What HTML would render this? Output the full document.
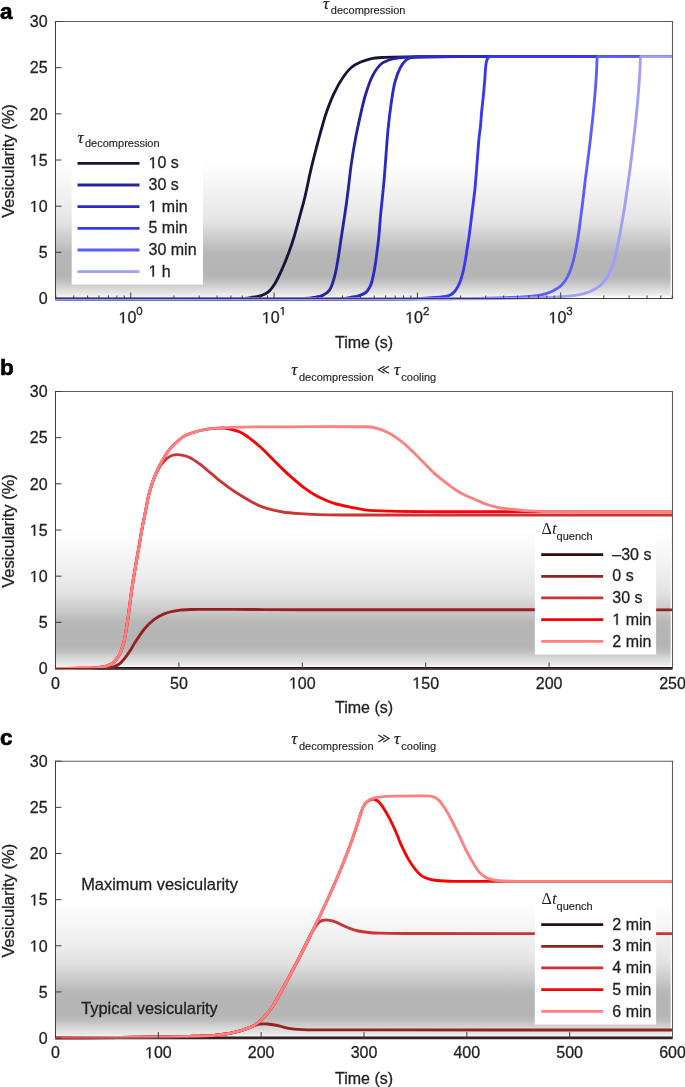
<!DOCTYPE html>
<html><head><meta charset="utf-8"><style>
html,body{margin:0;padding:0;background:#fff;}
body{width:685px;height:1087px;overflow:hidden;}
svg{display:block;will-change:transform;}
text{font-family:"Liberation Sans", sans-serif;fill:#231f20;}
.t{font-size:16px;stroke:#231f20;stroke-width:0.3px;}
.sup{font-size:11.5px;}
.sub{font-size:11px;stroke:#231f20;stroke-width:0.15px;}
.tau{font-family:"Liberation Serif", serif;font-style:italic;font-size:17px;stroke:#231f20;stroke-width:0.25px;}
.delta{font-family:"Liberation Serif", serif;font-size:16px;}
.tit{font-family:"Liberation Serif", serif;font-style:italic;font-size:17.5px;}
.pl{font-size:22.5px;font-weight:bold;fill:#000;stroke:#000;stroke-width:0.6px;}
.ann{font-size:16.4px;stroke:#231f20;stroke-width:0.3px;}
.yl{font-size:16.5px;stroke:#231f20;stroke-width:0.3px;}
.one{fill:none;stroke:none;}
</style></head>
<body><svg width="685" height="1087" viewBox="0 0 685 1087">
<defs><linearGradient id="g0" gradientUnits="userSpaceOnUse" x1="0" y1="155.38" x2="0" y2="296.65"><stop offset="0.0392" stop-color="rgb(255,255,255)"/><stop offset="0.0980" stop-color="rgb(252,252,252)"/><stop offset="0.1634" stop-color="rgb(248,248,248)"/><stop offset="0.2288" stop-color="rgb(244,244,244)"/><stop offset="0.2941" stop-color="rgb(240,240,240)"/><stop offset="0.3595" stop-color="rgb(236,236,236)"/><stop offset="0.4248" stop-color="rgb(231,231,231)"/><stop offset="0.4902" stop-color="rgb(224,224,224)"/><stop offset="0.5359" stop-color="rgb(214,214,214)"/><stop offset="0.5817" stop-color="rgb(205,205,205)"/><stop offset="0.6144" stop-color="rgb(200,200,200)"/><stop offset="0.6536" stop-color="rgb(190,190,190)"/><stop offset="0.6863" stop-color="rgb(184,184,184)"/><stop offset="0.7190" stop-color="rgb(182,182,182)"/><stop offset="0.7843" stop-color="rgb(181,181,181)"/><stop offset="0.8431" stop-color="rgb(181,181,181)"/><stop offset="0.8627" stop-color="rgb(183,183,183)"/><stop offset="0.8824" stop-color="rgb(188,188,188)"/><stop offset="0.9020" stop-color="rgb(196,196,196)"/><stop offset="0.9216" stop-color="rgb(206,206,206)"/><stop offset="0.9477" stop-color="rgb(218,218,218)"/><stop offset="0.9739" stop-color="rgb(228,228,228)"/><stop offset="0.9902" stop-color="rgb(236,236,236)"/><stop offset="0.9967" stop-color="rgb(245,245,245)"/></linearGradient><linearGradient id="g1" gradientUnits="userSpaceOnUse" x1="0" y1="525.38" x2="0" y2="666.65"><stop offset="0.0392" stop-color="rgb(255,255,255)"/><stop offset="0.0980" stop-color="rgb(252,252,252)"/><stop offset="0.1634" stop-color="rgb(248,248,248)"/><stop offset="0.2288" stop-color="rgb(244,244,244)"/><stop offset="0.2941" stop-color="rgb(240,240,240)"/><stop offset="0.3595" stop-color="rgb(236,236,236)"/><stop offset="0.4248" stop-color="rgb(231,231,231)"/><stop offset="0.4902" stop-color="rgb(224,224,224)"/><stop offset="0.5359" stop-color="rgb(214,214,214)"/><stop offset="0.5817" stop-color="rgb(205,205,205)"/><stop offset="0.6144" stop-color="rgb(200,200,200)"/><stop offset="0.6536" stop-color="rgb(190,190,190)"/><stop offset="0.6863" stop-color="rgb(184,184,184)"/><stop offset="0.7190" stop-color="rgb(182,182,182)"/><stop offset="0.7843" stop-color="rgb(181,181,181)"/><stop offset="0.8431" stop-color="rgb(181,181,181)"/><stop offset="0.8627" stop-color="rgb(183,183,183)"/><stop offset="0.8824" stop-color="rgb(188,188,188)"/><stop offset="0.9020" stop-color="rgb(196,196,196)"/><stop offset="0.9216" stop-color="rgb(206,206,206)"/><stop offset="0.9477" stop-color="rgb(218,218,218)"/><stop offset="0.9739" stop-color="rgb(228,228,228)"/><stop offset="0.9902" stop-color="rgb(236,236,236)"/><stop offset="0.9967" stop-color="rgb(245,245,245)"/></linearGradient><linearGradient id="g2" gradientUnits="userSpaceOnUse" x1="0" y1="895.03" x2="0" y2="1036.25"><stop offset="0.0392" stop-color="rgb(255,255,255)"/><stop offset="0.0980" stop-color="rgb(252,252,252)"/><stop offset="0.1634" stop-color="rgb(248,248,248)"/><stop offset="0.2288" stop-color="rgb(244,244,244)"/><stop offset="0.2941" stop-color="rgb(240,240,240)"/><stop offset="0.3595" stop-color="rgb(236,236,236)"/><stop offset="0.4248" stop-color="rgb(231,231,231)"/><stop offset="0.4902" stop-color="rgb(224,224,224)"/><stop offset="0.5359" stop-color="rgb(214,214,214)"/><stop offset="0.5817" stop-color="rgb(205,205,205)"/><stop offset="0.6144" stop-color="rgb(200,200,200)"/><stop offset="0.6536" stop-color="rgb(190,190,190)"/><stop offset="0.6863" stop-color="rgb(184,184,184)"/><stop offset="0.7190" stop-color="rgb(182,182,182)"/><stop offset="0.7843" stop-color="rgb(181,181,181)"/><stop offset="0.8431" stop-color="rgb(181,181,181)"/><stop offset="0.8627" stop-color="rgb(183,183,183)"/><stop offset="0.8824" stop-color="rgb(188,188,188)"/><stop offset="0.9020" stop-color="rgb(196,196,196)"/><stop offset="0.9216" stop-color="rgb(206,206,206)"/><stop offset="0.9477" stop-color="rgb(218,218,218)"/><stop offset="0.9739" stop-color="rgb(228,228,228)"/><stop offset="0.9902" stop-color="rgb(236,236,236)"/><stop offset="0.9967" stop-color="rgb(245,245,245)"/></linearGradient></defs>
<rect x="55.5" y="155.38" width="615.1" height="141.27" fill="url(#g0)"/>
<rect x="55.5" y="525.38" width="615.1" height="141.27" fill="url(#g1)"/>
<rect x="55.5" y="895.03" width="615.1" height="141.22" fill="url(#g2)"/>
<path d="M55.50,298.80 C87.00,298.80 119.81,298.82 150.00,298.80 C177.78,298.78 213.89,298.92 230.00,298.70 C236.98,298.60 241.23,298.59 245.00,298.30 C247.29,298.12 248.38,297.94 250.50,297.60 C253.45,297.13 257.92,296.64 261.00,295.60 C263.64,294.71 265.84,293.84 268.00,292.10 C270.58,290.02 272.83,286.78 275.00,283.40 C277.57,279.38 279.75,274.30 282.00,269.30 C284.47,263.82 287.00,257.51 289.10,251.80 C291.07,246.46 292.63,241.63 294.30,236.10 C296.14,230.02 297.85,223.24 299.60,216.80 C301.35,210.37 303.08,204.58 304.80,197.50 C306.88,188.97 308.94,177.84 311.00,169.10 C312.77,161.56 314.51,154.95 316.30,148.10 C318.02,141.52 319.71,135.06 321.50,128.80 C323.21,122.81 324.77,117.09 326.80,111.30 C328.86,105.42 331.13,99.40 333.80,93.80 C336.41,88.31 339.45,82.61 342.60,78.00 C345.34,74.00 348.14,70.20 351.30,67.50 C354.04,65.16 356.96,63.73 360.10,62.30 C363.37,60.81 366.80,59.61 370.60,58.80 C374.88,57.88 379.24,57.73 384.60,57.40 C391.81,56.96 400.58,56.93 410.00,56.80 C421.83,56.63 431.27,56.65 450.00,56.60 C494.17,56.49 598.33,56.60 672.50,56.60" fill="none" stroke="#15153a" stroke-width="2.85" stroke-linejoin="round" stroke-linecap="butt"/>
<path d="M55.50,298.80 C133.67,298.80 258.44,299.12 290.00,298.80 C297.98,298.72 300.70,298.82 305.00,298.50 C308.27,298.26 310.73,297.88 313.60,297.40 C316.50,296.92 319.67,296.78 322.30,295.60 C324.90,294.43 327.39,292.92 329.30,290.40 C331.80,287.09 333.17,281.40 334.60,276.40 C336.17,270.93 337.08,264.67 338.10,258.80 C339.11,252.97 339.82,247.13 340.70,241.30 C341.58,235.47 342.52,229.63 343.40,223.80 C344.28,217.97 345.18,212.14 346.00,206.30 C346.82,200.47 347.50,195.15 348.30,188.80 C349.25,181.23 350.09,172.30 351.30,163.90 C352.55,155.24 354.14,145.86 355.70,137.60 C357.10,130.19 358.51,123.59 360.10,116.60 C361.70,109.56 363.23,102.31 365.30,95.50 C367.31,88.89 369.39,81.82 372.30,76.30 C374.81,71.55 377.60,66.91 381.10,64.00 C384.16,61.45 387.87,60.20 391.60,59.10 C395.46,57.96 399.02,57.79 403.90,57.40 C410.97,56.83 421.00,56.93 430.00,56.80 C439.65,56.66 445.46,56.65 460.00,56.60 C498.69,56.47 601.67,56.60 672.50,56.60" fill="none" stroke="#24249e" stroke-width="2.85" stroke-linejoin="round" stroke-linecap="butt"/>
<path d="M55.50,298.80 C147.00,298.80 295.33,299.26 330.00,298.80 C338.11,298.69 341.24,298.79 345.00,298.40 C347.30,298.16 348.45,297.80 350.50,297.40 C353.09,296.90 356.59,296.54 359.30,295.60 C361.83,294.73 364.41,293.81 366.30,292.10 C368.24,290.34 369.48,287.95 370.70,285.10 C372.31,281.33 373.22,276.05 374.20,271.10 C375.29,265.62 376.02,259.44 376.80,253.60 C377.58,247.77 378.29,242.21 378.90,236.10 C379.57,229.40 379.99,221.70 380.60,215.00 C381.16,208.89 381.82,203.33 382.40,197.50 C382.98,191.67 383.55,186.35 384.10,180.00 C384.76,172.43 385.34,163.51 386.00,155.10 C386.68,146.45 387.22,137.55 388.10,128.80 C388.98,120.05 390.06,110.84 391.30,102.60 C392.42,95.17 393.37,87.74 395.10,81.50 C396.54,76.28 398.35,71.25 400.40,67.50 C401.97,64.63 403.76,62.15 405.60,60.50 C407.01,59.23 408.15,58.49 410.00,57.90 C412.59,57.07 415.77,57.22 420.00,57.00 C427.32,56.62 435.37,56.70 450.00,56.60 C489.84,56.33 598.33,56.60 672.50,56.60" fill="none" stroke="#2b2bc8" stroke-width="2.85" stroke-linejoin="round" stroke-linecap="butt"/>
<path d="M55.50,298.80 C175.33,298.80 372.51,300.20 415.00,298.80 C424.17,298.50 426.63,298.11 431.70,297.70 C435.95,297.36 440.01,297.14 443.40,296.60 C446.05,296.17 448.41,296.01 450.40,295.00 C452.23,294.07 453.59,292.72 455.00,291.00 C456.76,288.86 458.39,285.86 459.70,282.80 C461.19,279.32 462.23,275.02 463.20,271.10 C464.16,267.22 464.82,263.31 465.50,259.40 C466.18,255.51 466.70,251.59 467.30,247.70 C467.90,243.82 468.55,239.98 469.10,236.10 C469.65,232.21 470.12,228.30 470.60,224.40 C471.08,220.50 471.52,216.60 472.00,212.70 C472.48,208.80 473.02,204.90 473.50,201.00 C473.98,197.10 474.43,193.91 474.90,189.30 C475.57,182.67 476.23,173.28 476.90,165.00 C477.60,156.33 478.27,145.76 479.00,138.40 C479.52,133.17 480.16,129.44 480.60,125.00 C481.03,120.64 481.21,116.24 481.60,112.00 C481.98,107.92 482.50,103.82 482.90,100.00 C483.26,96.52 483.59,93.38 483.90,90.00 C484.22,86.52 484.55,82.83 484.80,79.40 C485.04,76.17 485.14,72.90 485.40,70.00 C485.62,67.49 485.81,65.00 486.20,63.00 C486.50,61.47 486.73,60.04 487.30,59.00 C487.74,58.19 488.34,57.50 489.00,57.10 C489.59,56.74 490.08,56.71 491.00,56.60 C492.91,56.36 495.12,56.60 500.00,56.60 C521.38,56.60 615.00,56.60 672.50,56.60" fill="none" stroke="#3737f4" stroke-width="2.85" stroke-linejoin="round" stroke-linecap="butt"/>
<path d="M55.50,298.80 C159.47,298.80 304.01,298.80 367.40,298.80 C395.20,298.80 410.83,298.83 427.40,298.80 C439.12,298.78 447.40,298.80 457.40,298.70 C467.40,298.60 478.41,298.41 487.40,298.20 C494.74,298.03 501.21,297.84 507.40,297.60 C512.76,297.39 517.68,297.21 522.40,296.90 C526.63,296.63 530.81,296.34 534.40,295.90 C537.34,295.54 539.84,295.19 542.40,294.60 C544.83,294.04 547.19,293.38 549.40,292.50 C551.52,291.66 553.48,290.63 555.40,289.50 C557.31,288.37 559.24,287.21 560.90,285.70 C562.62,284.13 564.08,282.36 565.50,280.20 C567.20,277.61 568.76,274.33 570.10,271.00 C571.58,267.32 572.74,263.17 573.80,259.00 C574.93,254.59 575.75,249.81 576.60,245.20 C577.45,240.61 578.22,236.01 578.90,231.40 C579.58,226.81 580.10,222.20 580.70,217.60 C581.30,213.00 581.93,208.40 582.50,203.80 C583.07,199.20 583.55,194.70 584.10,190.00 C584.68,185.10 585.28,180.00 585.90,175.00 C586.53,170.00 587.23,164.91 587.85,160.00 C588.45,155.28 588.99,150.83 589.55,146.10 C590.14,141.17 590.73,136.04 591.30,131.00 C591.87,125.94 592.43,120.87 592.95,115.80 C593.47,110.74 593.95,105.67 594.40,100.60 C594.85,95.53 595.27,90.47 595.65,85.40 C596.02,80.33 596.35,75.07 596.65,70.20 C596.93,65.70 596.73,58.71 597.40,57.20 C597.57,56.82 597.68,56.73 598.00,56.60 C598.64,56.33 599.85,56.60 601.40,56.60 C604.77,56.60 610.47,56.60 617.40,56.60 C630.26,56.60 654.13,56.60 672.50,56.60" fill="none" stroke="#5d5df7" stroke-width="2.85" stroke-linejoin="round" stroke-linecap="butt"/>
<path d="M55.50,298.80 C173.90,298.80 350.49,298.80 410.70,298.80 C431.23,298.80 438.97,298.82 452.00,298.80 C463.70,298.78 474.20,298.80 485.30,298.70 C496.40,298.60 508.62,298.41 518.60,298.20 C526.75,298.03 533.93,297.84 540.80,297.60 C546.75,297.39 552.21,297.21 557.45,296.90 C562.14,296.63 566.79,296.34 570.77,295.90 C574.04,295.54 576.81,295.19 579.65,294.60 C582.34,294.04 584.96,293.38 587.42,292.50 C589.76,291.66 591.94,290.64 594.08,289.50 C596.20,288.37 598.33,287.23 600.19,285.70 C602.08,284.14 603.71,282.38 605.29,280.20 C607.16,277.62 608.91,274.34 610.40,271.00 C612.03,267.33 613.32,263.17 614.50,259.00 C615.75,254.59 616.62,249.80 617.61,245.20 C618.60,240.60 619.57,236.01 620.43,231.40 C621.30,226.81 622.02,222.20 622.80,217.60 C623.57,213.00 624.36,208.40 625.07,203.80 C625.78,199.20 626.39,194.70 627.06,190.00 C627.76,185.10 628.52,180.00 629.20,175.00 C629.88,170.00 630.53,164.91 631.15,160.00 C631.75,155.28 632.29,150.83 632.85,146.10 C633.44,141.17 634.03,136.04 634.60,131.00 C635.17,125.94 635.73,120.87 636.25,115.80 C636.77,110.74 637.25,105.67 637.70,100.60 C638.15,95.53 638.57,90.47 638.95,85.40 C639.32,80.33 639.65,75.07 639.95,70.20 C640.23,65.70 640.03,58.71 640.70,57.20 C640.87,56.82 640.98,56.73 641.30,56.60 C641.94,56.33 643.15,56.60 644.70,56.60 C648.07,56.60 655.77,56.60 660.70,56.60 C664.93,56.60 668.57,56.60 672.50,56.60" fill="none" stroke="#9e9efb" stroke-width="2.85" stroke-linejoin="round" stroke-linecap="butt"/>
<path d="M55.5,21.5 H672.5 V298.5" fill="none" stroke="#5c5c5c" stroke-width="1.1"/>
<path d="M55.5,21.0 V298.5 H672.5" fill="none" stroke="#3c3c3c" stroke-width="1"/>
<line x1="55.5" y1="298.50" x2="61.5" y2="298.50" stroke="#3c3c3c" stroke-width="1"/>
<line x1="55.5" y1="252.33" x2="61.5" y2="252.33" stroke="#3c3c3c" stroke-width="1"/>
<line x1="55.5" y1="206.17" x2="61.5" y2="206.17" stroke="#3c3c3c" stroke-width="1"/>
<line x1="55.5" y1="160.00" x2="61.5" y2="160.00" stroke="#3c3c3c" stroke-width="1"/>
<line x1="55.5" y1="113.83" x2="61.5" y2="113.83" stroke="#3c3c3c" stroke-width="1"/>
<line x1="55.5" y1="67.67" x2="61.5" y2="67.67" stroke="#3c3c3c" stroke-width="1"/>
<line x1="55.5" y1="21.50" x2="61.5" y2="21.50" stroke="#3c3c3c" stroke-width="1"/>
<line x1="130.75" y1="298.5" x2="130.75" y2="292.5" stroke="#3c3c3c" stroke-width="1"/>
<line x1="274.08" y1="298.5" x2="274.08" y2="292.5" stroke="#3c3c3c" stroke-width="1"/>
<line x1="417.41" y1="298.5" x2="417.41" y2="292.5" stroke="#3c3c3c" stroke-width="1"/>
<line x1="560.74" y1="298.5" x2="560.74" y2="292.5" stroke="#3c3c3c" stroke-width="1"/>
<line x1="55.81" y1="298.5" x2="55.81" y2="295.5" stroke="#3c3c3c" stroke-width="1"/>
<line x1="73.71" y1="298.5" x2="73.71" y2="295.5" stroke="#3c3c3c" stroke-width="1"/>
<line x1="87.60" y1="298.5" x2="87.60" y2="295.5" stroke="#3c3c3c" stroke-width="1"/>
<line x1="98.95" y1="298.5" x2="98.95" y2="295.5" stroke="#3c3c3c" stroke-width="1"/>
<line x1="108.55" y1="298.5" x2="108.55" y2="295.5" stroke="#3c3c3c" stroke-width="1"/>
<line x1="116.86" y1="298.5" x2="116.86" y2="295.5" stroke="#3c3c3c" stroke-width="1"/>
<line x1="124.19" y1="298.5" x2="124.19" y2="295.5" stroke="#3c3c3c" stroke-width="1"/>
<line x1="173.90" y1="298.5" x2="173.90" y2="295.5" stroke="#3c3c3c" stroke-width="1"/>
<line x1="199.14" y1="298.5" x2="199.14" y2="295.5" stroke="#3c3c3c" stroke-width="1"/>
<line x1="217.04" y1="298.5" x2="217.04" y2="295.5" stroke="#3c3c3c" stroke-width="1"/>
<line x1="230.93" y1="298.5" x2="230.93" y2="295.5" stroke="#3c3c3c" stroke-width="1"/>
<line x1="242.28" y1="298.5" x2="242.28" y2="295.5" stroke="#3c3c3c" stroke-width="1"/>
<line x1="251.88" y1="298.5" x2="251.88" y2="295.5" stroke="#3c3c3c" stroke-width="1"/>
<line x1="260.19" y1="298.5" x2="260.19" y2="295.5" stroke="#3c3c3c" stroke-width="1"/>
<line x1="267.52" y1="298.5" x2="267.52" y2="295.5" stroke="#3c3c3c" stroke-width="1"/>
<line x1="317.23" y1="298.5" x2="317.23" y2="295.5" stroke="#3c3c3c" stroke-width="1"/>
<line x1="342.47" y1="298.5" x2="342.47" y2="295.5" stroke="#3c3c3c" stroke-width="1"/>
<line x1="360.37" y1="298.5" x2="360.37" y2="295.5" stroke="#3c3c3c" stroke-width="1"/>
<line x1="374.26" y1="298.5" x2="374.26" y2="295.5" stroke="#3c3c3c" stroke-width="1"/>
<line x1="385.61" y1="298.5" x2="385.61" y2="295.5" stroke="#3c3c3c" stroke-width="1"/>
<line x1="395.21" y1="298.5" x2="395.21" y2="295.5" stroke="#3c3c3c" stroke-width="1"/>
<line x1="403.52" y1="298.5" x2="403.52" y2="295.5" stroke="#3c3c3c" stroke-width="1"/>
<line x1="410.85" y1="298.5" x2="410.85" y2="295.5" stroke="#3c3c3c" stroke-width="1"/>
<line x1="460.56" y1="298.5" x2="460.56" y2="295.5" stroke="#3c3c3c" stroke-width="1"/>
<line x1="485.80" y1="298.5" x2="485.80" y2="295.5" stroke="#3c3c3c" stroke-width="1"/>
<line x1="503.70" y1="298.5" x2="503.70" y2="295.5" stroke="#3c3c3c" stroke-width="1"/>
<line x1="517.59" y1="298.5" x2="517.59" y2="295.5" stroke="#3c3c3c" stroke-width="1"/>
<line x1="528.94" y1="298.5" x2="528.94" y2="295.5" stroke="#3c3c3c" stroke-width="1"/>
<line x1="538.54" y1="298.5" x2="538.54" y2="295.5" stroke="#3c3c3c" stroke-width="1"/>
<line x1="546.85" y1="298.5" x2="546.85" y2="295.5" stroke="#3c3c3c" stroke-width="1"/>
<line x1="554.18" y1="298.5" x2="554.18" y2="295.5" stroke="#3c3c3c" stroke-width="1"/>
<line x1="603.89" y1="298.5" x2="603.89" y2="295.5" stroke="#3c3c3c" stroke-width="1"/>
<line x1="629.13" y1="298.5" x2="629.13" y2="295.5" stroke="#3c3c3c" stroke-width="1"/>
<line x1="647.03" y1="298.5" x2="647.03" y2="295.5" stroke="#3c3c3c" stroke-width="1"/>
<line x1="660.92" y1="298.5" x2="660.92" y2="295.5" stroke="#3c3c3c" stroke-width="1"/>
<line x1="672.27" y1="298.5" x2="672.27" y2="295.5" stroke="#3c3c3c" stroke-width="1"/>
<path d="M55.50,668.40 L672.50,668.40" fill="none" stroke="#2b0c0c" stroke-width="2.85" stroke-linejoin="round" stroke-linecap="butt"/>
<path d="M55.50,668.40 C70.33,668.40 91.17,668.57 100.00,668.40 C103.75,668.33 105.19,668.62 108.00,668.10 C111.31,667.49 115.38,666.55 118.50,664.50 C121.89,662.27 124.52,658.47 127.30,654.80 C130.43,650.68 133.11,645.28 136.10,640.80 C138.95,636.53 141.72,632.13 144.80,628.50 C147.59,625.21 150.36,622.24 153.60,619.80 C156.80,617.39 160.51,615.38 164.10,613.90 C167.52,612.49 171.66,611.65 174.60,611.00 C176.68,610.54 177.92,610.34 180.00,610.10 C182.82,609.78 186.67,609.63 190.00,609.50 C193.33,609.37 195.39,609.34 200.00,609.30 C210.30,609.22 233.33,609.43 250.00,609.50 C266.67,609.57 275.60,609.65 300.00,609.70 C366.59,609.84 548.33,609.77 672.50,609.80" fill="none" stroke="#952222" stroke-width="2.85" stroke-linejoin="round" stroke-linecap="butt"/>
<path d="M55.50,668.40 C63.67,668.33 72.52,668.36 80.00,668.20 C86.32,668.07 92.67,668.07 97.50,667.60 C100.94,667.27 103.60,667.07 106.30,666.20 C108.83,665.39 111.22,664.41 113.30,662.70 C115.65,660.76 117.72,657.87 119.40,654.80 C121.32,651.30 122.59,647.09 123.80,642.60 C125.22,637.32 126.06,630.87 127.00,625.00 C127.93,619.17 128.62,613.33 129.40,607.50 C130.18,601.67 130.99,595.02 131.70,590.00 C132.23,586.20 132.58,583.90 133.20,580.00 C134.08,574.47 135.52,566.20 136.60,560.00 C137.54,554.61 138.40,550.05 139.30,544.90 C140.24,539.50 141.08,533.82 142.10,528.30 C143.12,522.78 144.30,517.31 145.40,511.80 C146.50,506.28 147.42,500.39 148.70,495.20 C149.85,490.52 150.92,486.48 152.60,482.00 C154.44,477.09 157.62,470.13 159.50,467.00 C160.44,465.43 161.02,464.89 162.00,463.70 C163.23,462.20 164.74,460.17 166.40,458.80 C168.04,457.45 170.00,456.18 171.90,455.50 C173.67,454.87 175.65,454.73 177.40,454.70 C179.00,454.67 180.27,454.84 182.00,455.20 C184.34,455.68 187.32,456.38 190.10,457.70 C193.49,459.31 197.17,462.14 200.60,464.70 C204.17,467.36 207.60,470.49 211.10,473.40 C214.60,476.32 218.25,479.59 221.60,482.20 C224.51,484.48 227.02,486.23 230.00,488.30 C233.28,490.59 236.97,493.08 240.50,495.30 C243.97,497.48 247.46,499.58 251.00,501.50 C254.47,503.38 257.94,505.32 261.50,506.70 C264.94,508.03 268.48,508.82 272.00,509.70 C275.51,510.58 278.61,511.37 282.60,512.00 C287.69,512.80 294.26,513.27 300.10,513.70 C305.93,514.13 310.87,514.39 317.60,514.60 C326.75,514.89 333.60,514.90 350.00,515.00 C401.75,515.33 565.00,515.07 672.50,515.10" fill="none" stroke="#cc3333" stroke-width="2.85" stroke-linejoin="round" stroke-linecap="butt"/>
<path d="M55.50,668.40 C63.67,668.33 72.52,668.36 80.00,668.20 C86.32,668.07 92.67,668.07 97.50,667.60 C100.94,667.27 103.60,667.07 106.30,666.20 C108.83,665.39 111.22,664.41 113.30,662.70 C115.65,660.76 117.72,657.87 119.40,654.80 C121.32,651.30 122.59,647.09 123.80,642.60 C125.22,637.32 126.06,630.87 127.00,625.00 C127.93,619.17 128.62,613.33 129.40,607.50 C130.18,601.67 130.99,595.02 131.70,590.00 C132.23,586.20 132.58,583.90 133.20,580.00 C134.08,574.47 135.52,566.20 136.60,560.00 C137.54,554.61 138.40,550.05 139.30,544.90 C140.24,539.50 141.08,533.82 142.10,528.30 C143.12,522.78 144.30,517.31 145.40,511.80 C146.50,506.28 147.42,500.39 148.70,495.20 C149.85,490.52 151.16,486.18 152.60,482.00 C153.94,478.11 155.40,474.46 157.00,470.90 C158.54,467.47 160.22,464.18 162.00,461.00 C163.73,457.92 165.57,454.78 167.50,452.10 C169.25,449.67 171.09,447.47 173.00,445.50 C174.77,443.67 176.74,442.15 178.50,440.60 C180.10,439.19 181.13,437.81 183.10,436.60 C185.79,434.94 189.80,433.51 193.60,432.30 C197.88,430.94 202.64,429.86 207.60,429.10 C213.08,428.26 225.09,427.65 225.10,427.70 C225.10,427.72 223.40,427.79 223.40,427.90 C223.39,428.12 227.56,428.51 230.00,429.10 C233.12,429.86 237.11,430.70 240.50,432.30 C244.13,434.02 247.57,436.74 251.00,439.30 C254.57,441.96 258.07,444.88 261.50,448.00 C265.08,451.26 268.49,454.99 272.00,458.50 C275.52,462.02 279.04,465.69 282.60,469.10 C286.07,472.42 289.56,475.62 293.10,478.70 C296.56,481.72 300.03,484.73 303.60,487.40 C307.04,489.98 310.53,492.42 314.10,494.50 C317.53,496.50 321.06,498.15 324.60,499.70 C328.06,501.21 331.25,502.53 335.10,503.70 C339.59,505.06 345.01,506.08 350.00,507.10 C354.98,508.12 359.29,509.14 365.00,509.80 C372.46,510.67 380.97,510.88 391.00,511.20 C404.76,511.64 417.61,511.58 440.00,511.70 C488.77,511.97 595.00,511.83 672.50,511.90" fill="none" stroke="#fa0000" stroke-width="2.85" stroke-linejoin="round" stroke-linecap="butt"/>
<path d="M55.50,668.40 C63.67,668.33 72.52,668.36 80.00,668.20 C86.32,668.07 92.67,668.07 97.50,667.60 C100.94,667.27 103.60,667.07 106.30,666.20 C108.83,665.39 111.22,664.41 113.30,662.70 C115.65,660.76 117.72,657.87 119.40,654.80 C121.32,651.30 122.59,647.09 123.80,642.60 C125.22,637.32 126.06,630.87 127.00,625.00 C127.93,619.17 128.62,613.33 129.40,607.50 C130.18,601.67 130.99,595.02 131.70,590.00 C132.23,586.20 132.58,583.90 133.20,580.00 C134.08,574.47 135.52,566.20 136.60,560.00 C137.54,554.61 138.40,550.05 139.30,544.90 C140.24,539.50 141.08,533.82 142.10,528.30 C143.12,522.78 144.30,517.31 145.40,511.80 C146.50,506.28 147.42,500.39 148.70,495.20 C149.85,490.52 151.16,486.18 152.60,482.00 C153.94,478.11 155.40,474.46 157.00,470.90 C158.54,467.47 160.22,464.18 162.00,461.00 C163.73,457.92 165.57,454.78 167.50,452.10 C169.25,449.67 171.09,447.47 173.00,445.50 C174.77,443.67 176.74,442.15 178.50,440.60 C180.10,439.19 181.13,437.81 183.10,436.60 C185.79,434.94 189.80,433.51 193.60,432.30 C197.88,430.94 202.64,429.86 207.60,429.10 C213.08,428.26 219.50,428.04 225.10,427.70 C230.26,427.39 233.83,427.25 240.00,427.10 C250.11,426.86 264.38,426.87 280.00,426.80 C302.09,426.70 345.82,426.51 360.00,426.70 C365.14,426.77 367.03,426.53 370.50,427.00 C374.03,427.48 377.56,428.40 381.00,429.60 C384.56,430.84 388.09,432.43 391.50,434.40 C395.10,436.48 398.57,439.14 402.00,441.90 C405.61,444.81 409.12,448.18 412.60,451.50 C416.15,454.88 419.60,458.49 423.10,462.00 C426.60,465.52 430.02,469.32 433.60,472.60 C437.02,475.73 440.57,478.51 444.10,481.30 C447.57,484.04 451.03,486.83 454.60,489.20 C458.03,491.48 461.54,493.53 465.10,495.30 C468.55,497.01 472.03,498.20 475.60,499.70 C479.32,501.26 483.12,503.16 487.00,504.50 C490.86,505.83 494.05,506.80 498.80,507.70 C505.79,509.03 516.32,509.93 525.10,510.60 C533.86,511.27 541.30,511.46 551.40,511.70 C565.13,512.03 582.19,511.95 600.00,512.00 C621.76,512.07 648.33,512.00 672.50,512.00" fill="none" stroke="#ff8080" stroke-width="2.85" stroke-linejoin="round" stroke-linecap="butt"/>
<path d="M55.5,391.5 H672.5 V668.5" fill="none" stroke="#5c5c5c" stroke-width="1.1"/>
<path d="M55.5,391.0 V668.5 H672.5" fill="none" stroke="#3c3c3c" stroke-width="1"/>
<line x1="55.5" y1="668.50" x2="61.5" y2="668.50" stroke="#3c3c3c" stroke-width="1"/>
<line x1="55.5" y1="622.33" x2="61.5" y2="622.33" stroke="#3c3c3c" stroke-width="1"/>
<line x1="55.5" y1="576.17" x2="61.5" y2="576.17" stroke="#3c3c3c" stroke-width="1"/>
<line x1="55.5" y1="530.00" x2="61.5" y2="530.00" stroke="#3c3c3c" stroke-width="1"/>
<line x1="55.5" y1="483.83" x2="61.5" y2="483.83" stroke="#3c3c3c" stroke-width="1"/>
<line x1="55.5" y1="437.67" x2="61.5" y2="437.67" stroke="#3c3c3c" stroke-width="1"/>
<line x1="55.5" y1="391.50" x2="61.5" y2="391.50" stroke="#3c3c3c" stroke-width="1"/>
<line x1="178.90" y1="668.5" x2="178.90" y2="662.5" stroke="#3c3c3c" stroke-width="1"/>
<line x1="302.30" y1="668.5" x2="302.30" y2="662.5" stroke="#3c3c3c" stroke-width="1"/>
<line x1="425.70" y1="668.5" x2="425.70" y2="662.5" stroke="#3c3c3c" stroke-width="1"/>
<line x1="549.10" y1="668.5" x2="549.10" y2="662.5" stroke="#3c3c3c" stroke-width="1"/>
<path d="M55.50,1037.90 L672.50,1037.90" fill="none" stroke="#2b0c0c" stroke-width="2.85" stroke-linejoin="round" stroke-linecap="butt"/>
<path d="M55.50,1037.90 C77.00,1037.77 101.06,1037.70 120.00,1037.50 C134.92,1037.34 147.62,1037.12 160.00,1036.90 C170.72,1036.71 182.04,1036.50 190.00,1036.30 C195.26,1036.17 198.73,1036.10 203.10,1035.90 C207.49,1035.70 211.92,1035.52 216.30,1035.10 C220.68,1034.68 225.05,1034.22 229.40,1033.40 C233.82,1032.56 238.49,1031.39 242.60,1030.10 C246.34,1028.93 250.77,1026.95 253.10,1026.10 C254.25,1025.68 254.75,1025.49 255.70,1025.20 C256.84,1024.85 258.20,1024.42 259.50,1024.20 C260.83,1023.98 262.25,1023.93 263.60,1023.90 C264.92,1023.87 266.19,1023.90 267.50,1024.00 C268.83,1024.10 269.92,1024.25 271.50,1024.50 C273.81,1024.86 277.18,1025.45 280.00,1026.10 C282.85,1026.75 285.28,1027.83 288.50,1028.40 C292.58,1029.12 296.14,1029.31 302.60,1029.60 C316.69,1030.23 339.48,1029.83 370.00,1029.90 C434.67,1030.05 571.67,1029.97 672.50,1030.00" fill="none" stroke="#952222" stroke-width="2.85" stroke-linejoin="round" stroke-linecap="butt"/>
<path d="M55.50,1037.90 C77.00,1037.77 101.06,1037.70 120.00,1037.50 C134.92,1037.34 147.62,1037.12 160.00,1036.90 C170.72,1036.71 182.04,1036.50 190.00,1036.30 C195.26,1036.17 198.73,1036.10 203.10,1035.90 C207.49,1035.70 211.92,1035.52 216.30,1035.10 C220.68,1034.68 225.05,1034.22 229.40,1033.40 C233.82,1032.56 238.49,1031.39 242.60,1030.10 C246.34,1028.93 250.39,1027.52 253.10,1026.10 C254.99,1025.11 255.99,1024.26 257.60,1023.00 C259.66,1021.38 262.29,1019.07 264.31,1017.00 C266.21,1015.06 267.88,1013.04 269.44,1011.00 C270.93,1009.04 272.24,1007.02 273.51,1005.00 C274.75,1003.02 275.86,1001.01 277.00,999.00 C278.13,997.01 279.22,995.00 280.32,993.00 C281.42,991.00 282.52,989.00 283.61,987.00 C284.70,985.00 285.78,983.00 286.86,981.00 C287.94,979.00 289.01,977.00 290.07,975.00 C291.13,973.00 292.19,971.00 293.24,969.00 C294.29,967.00 295.34,965.00 296.38,963.00 C297.42,961.00 298.45,959.00 299.48,957.00 C300.51,955.00 301.53,953.00 302.55,951.00 C303.57,949.00 304.58,947.00 305.59,945.00 C306.60,943.00 307.59,941.00 308.59,939.00 C309.59,937.00 310.46,935.03 311.57,933.00 C312.77,930.80 314.25,928.20 315.60,926.30 C316.70,924.75 317.63,923.30 318.90,922.30 C320.06,921.39 321.36,920.78 322.80,920.40 C324.39,919.98 326.25,919.95 328.10,920.10 C330.19,920.27 332.44,920.83 334.70,921.60 C337.26,922.48 339.96,924.13 342.60,925.30 C345.20,926.46 347.77,927.65 350.40,928.60 C353.00,929.54 355.45,930.37 358.30,931.00 C361.53,931.72 365.24,932.13 368.80,932.50 C372.47,932.88 375.11,933.03 380.00,933.20 C389.22,933.52 400.93,933.42 420.00,933.50 C467.92,933.69 588.33,933.57 672.50,933.60" fill="none" stroke="#cc3333" stroke-width="2.85" stroke-linejoin="round" stroke-linecap="butt"/>
<path d="M55.50,1037.90 C77.00,1037.77 101.06,1037.70 120.00,1037.50 C134.92,1037.34 147.62,1037.12 160.00,1036.90 C170.72,1036.71 182.04,1036.50 190.00,1036.30 C195.26,1036.17 198.73,1036.10 203.10,1035.90 C207.49,1035.70 211.92,1035.52 216.30,1035.10 C220.68,1034.68 225.05,1034.22 229.40,1033.40 C233.82,1032.56 238.49,1031.39 242.60,1030.10 C246.34,1028.93 250.39,1027.52 253.10,1026.10 C254.99,1025.11 255.99,1024.26 257.60,1023.00 C259.66,1021.38 262.29,1019.07 264.31,1017.00 C266.21,1015.06 267.88,1013.04 269.44,1011.00 C270.93,1009.04 272.24,1007.02 273.51,1005.00 C274.75,1003.02 275.86,1001.01 277.00,999.00 C278.13,997.01 279.22,995.00 280.32,993.00 C281.42,991.00 282.52,989.00 283.61,987.00 C284.70,985.00 285.78,983.00 286.86,981.00 C287.94,979.00 289.01,977.00 290.07,975.00 C291.13,973.00 292.19,971.00 293.24,969.00 C294.29,967.00 295.34,965.00 296.38,963.00 C297.42,961.00 298.45,959.00 299.48,957.00 C300.51,955.00 301.53,953.00 302.55,951.00 C303.57,949.00 304.58,947.00 305.59,945.00 C306.60,943.00 307.59,941.00 308.59,939.00 C309.59,937.00 310.58,935.00 311.57,933.00 C312.56,931.00 313.53,929.00 314.51,927.00 C315.48,925.00 316.46,923.00 317.42,921.00 C318.38,919.00 319.34,917.00 320.29,915.00 C321.24,913.00 322.18,911.00 323.12,909.00 C324.06,907.00 324.99,905.00 325.91,903.00 C326.83,901.00 327.75,899.00 328.66,897.00 C329.57,895.00 330.47,893.00 331.36,891.00 C332.25,889.00 333.14,887.00 334.01,885.00 C334.88,883.00 335.74,881.00 336.60,879.00 C337.45,877.00 338.30,875.00 339.14,873.00 C339.98,871.00 340.81,869.00 341.63,867.00 C342.45,865.00 343.25,863.00 344.05,861.00 C344.84,859.00 345.63,857.00 346.40,855.00 C347.17,853.00 347.94,851.00 348.69,849.00 C349.44,847.00 350.18,845.00 350.91,843.00 C351.64,841.00 352.35,839.00 353.05,837.00 C353.75,835.00 354.44,833.00 355.12,831.00 C355.80,829.00 356.46,827.00 357.11,825.00 C357.76,823.00 358.40,821.00 359.02,819.00 C359.64,817.00 360.14,815.02 360.85,813.00 C361.59,810.89 362.33,808.51 363.40,806.60 C364.38,804.84 365.41,803.15 366.90,801.90 C368.47,800.58 370.85,799.09 372.70,799.00 C374.33,798.92 376.03,799.91 377.40,800.80 C378.76,801.68 379.79,802.96 380.90,804.30 C382.14,805.81 383.18,807.55 384.40,809.50 C385.89,811.90 387.58,814.86 389.10,817.70 C390.69,820.68 392.30,824.00 393.70,827.00 C394.98,829.75 396.02,832.20 397.20,835.00 C398.48,838.05 399.53,841.13 401.10,844.60 C403.03,848.86 405.63,854.34 408.10,858.60 C410.32,862.43 412.61,866.06 415.10,869.10 C417.31,871.79 419.50,874.38 422.10,876.10 C424.51,877.70 427.36,878.56 430.00,879.30 C432.49,879.99 434.47,880.19 437.50,880.50 C442.11,880.97 448.16,881.13 455.00,881.30 C464.66,881.53 473.77,881.38 490.00,881.40 C527.05,881.45 611.67,881.40 672.50,881.40" fill="none" stroke="#fa0000" stroke-width="2.85" stroke-linejoin="round" stroke-linecap="butt"/>
<path d="M55.50,1037.90 C77.00,1037.77 101.06,1037.70 120.00,1037.50 C134.92,1037.34 147.62,1037.12 160.00,1036.90 C170.72,1036.71 182.04,1036.50 190.00,1036.30 C195.26,1036.17 198.73,1036.10 203.10,1035.90 C207.49,1035.70 211.92,1035.52 216.30,1035.10 C220.68,1034.68 225.05,1034.22 229.40,1033.40 C233.82,1032.56 238.49,1031.39 242.60,1030.10 C246.34,1028.93 250.39,1027.52 253.10,1026.10 C254.99,1025.11 255.99,1024.26 257.60,1023.00 C259.66,1021.38 262.29,1019.07 264.31,1017.00 C266.21,1015.06 267.88,1013.04 269.44,1011.00 C270.93,1009.04 272.24,1007.02 273.51,1005.00 C274.75,1003.02 275.86,1001.01 277.00,999.00 C278.13,997.01 279.22,995.00 280.32,993.00 C281.42,991.00 282.52,989.00 283.61,987.00 C284.70,985.00 285.78,983.00 286.86,981.00 C287.94,979.00 289.01,977.00 290.07,975.00 C291.13,973.00 292.19,971.00 293.24,969.00 C294.29,967.00 295.34,965.00 296.38,963.00 C297.42,961.00 298.45,959.00 299.48,957.00 C300.51,955.00 301.53,953.00 302.55,951.00 C303.57,949.00 304.58,947.00 305.59,945.00 C306.60,943.00 307.59,941.00 308.59,939.00 C309.59,937.00 310.58,935.00 311.57,933.00 C312.56,931.00 313.53,929.00 314.51,927.00 C315.48,925.00 316.46,923.00 317.42,921.00 C318.38,919.00 319.34,917.00 320.29,915.00 C321.24,913.00 322.18,911.00 323.12,909.00 C324.06,907.00 324.99,905.00 325.91,903.00 C326.83,901.00 327.75,899.00 328.66,897.00 C329.57,895.00 330.47,893.00 331.36,891.00 C332.25,889.00 333.14,887.00 334.01,885.00 C334.88,883.00 335.74,881.00 336.60,879.00 C337.45,877.00 338.30,875.00 339.14,873.00 C339.98,871.00 340.81,869.00 341.63,867.00 C342.45,865.00 343.25,863.00 344.05,861.00 C344.84,859.00 345.63,857.00 346.40,855.00 C347.17,853.00 347.94,851.00 348.69,849.00 C349.44,847.00 350.18,845.00 350.91,843.00 C351.64,841.00 352.35,839.00 353.05,837.00 C353.75,835.00 354.44,833.00 355.12,831.00 C355.80,829.00 356.46,827.00 357.11,825.00 C357.76,823.00 358.40,821.00 359.02,819.00 C359.64,817.00 360.14,815.02 360.85,813.00 C361.59,810.89 362.33,808.51 363.40,806.60 C364.38,804.84 365.53,803.21 366.90,801.90 C368.24,800.62 369.80,799.56 371.50,798.80 C373.28,798.00 375.19,797.68 377.40,797.30 C380.13,796.82 383.42,796.60 386.70,796.40 C390.37,796.18 393.91,796.18 398.40,796.10 C404.50,795.99 414.08,795.84 420.00,795.90 C424.12,795.94 427.40,795.56 430.50,796.20 C433.12,796.74 435.36,797.41 437.50,799.00 C440.12,800.95 442.28,804.53 444.50,807.80 C446.98,811.45 449.23,815.75 451.50,820.00 C453.90,824.50 456.19,829.32 458.50,834.10 C460.86,838.99 463.09,844.23 465.50,849.00 C467.80,853.54 470.15,858.03 472.60,862.10 C474.86,865.85 477.01,869.85 479.60,872.60 C481.76,874.89 483.88,876.60 486.60,877.90 C489.62,879.34 493.04,879.92 497.10,880.50 C502.53,881.28 509.64,881.15 516.40,881.30 C523.87,881.47 528.94,881.38 540.00,881.40 C566.22,881.46 628.33,881.40 672.50,881.40" fill="none" stroke="#ff8080" stroke-width="2.85" stroke-linejoin="round" stroke-linecap="butt"/>
<path d="M55.5,761.2 H672.5 V1038.1" fill="none" stroke="#5c5c5c" stroke-width="1.1"/>
<path d="M55.5,760.7 V1038.1 H672.5" fill="none" stroke="#3c3c3c" stroke-width="1"/>
<line x1="55.5" y1="1038.10" x2="61.5" y2="1038.10" stroke="#3c3c3c" stroke-width="1"/>
<line x1="55.5" y1="991.95" x2="61.5" y2="991.95" stroke="#3c3c3c" stroke-width="1"/>
<line x1="55.5" y1="945.80" x2="61.5" y2="945.80" stroke="#3c3c3c" stroke-width="1"/>
<line x1="55.5" y1="899.65" x2="61.5" y2="899.65" stroke="#3c3c3c" stroke-width="1"/>
<line x1="55.5" y1="853.50" x2="61.5" y2="853.50" stroke="#3c3c3c" stroke-width="1"/>
<line x1="55.5" y1="807.35" x2="61.5" y2="807.35" stroke="#3c3c3c" stroke-width="1"/>
<line x1="55.5" y1="761.20" x2="61.5" y2="761.20" stroke="#3c3c3c" stroke-width="1"/>
<line x1="158.33" y1="1038.1" x2="158.33" y2="1032.1" stroke="#3c3c3c" stroke-width="1"/>
<line x1="261.17" y1="1038.1" x2="261.17" y2="1032.1" stroke="#3c3c3c" stroke-width="1"/>
<line x1="364.00" y1="1038.1" x2="364.00" y2="1032.1" stroke="#3c3c3c" stroke-width="1"/>
<line x1="466.83" y1="1038.1" x2="466.83" y2="1032.1" stroke="#3c3c3c" stroke-width="1"/>
<line x1="569.67" y1="1038.1" x2="569.67" y2="1032.1" stroke="#3c3c3c" stroke-width="1"/>
<rect x="71.7" y="126" width="131.3" height="158.6" fill="#fff"/>
<text x="77.5" y="142.5" class="tau">τ</text><text x="85" y="147.3" class="sub">decompression</text>
<line x1="77.5" y1="163.30" x2="139.5" y2="163.30" stroke="#15153a" stroke-width="2.8"/>
<text x="148.5" y="168.20" class="t"><tspan class="one">1</tspan>0 s</text>
<line x1="77.5" y1="184.98" x2="139.5" y2="184.98" stroke="#24249e" stroke-width="2.8"/>
<text x="148.5" y="189.88" class="t">30 s</text>
<line x1="77.5" y1="206.66" x2="139.5" y2="206.66" stroke="#2b2bc8" stroke-width="2.8"/>
<text x="148.5" y="211.56" class="t"><tspan class="one">1</tspan> min</text>
<line x1="77.5" y1="228.34" x2="139.5" y2="228.34" stroke="#3737f4" stroke-width="2.8"/>
<text x="148.5" y="233.24" class="t">5 min</text>
<line x1="77.5" y1="250.02" x2="139.5" y2="250.02" stroke="#5d5df7" stroke-width="2.8"/>
<text x="148.5" y="254.92" class="t">30 min</text>
<line x1="77.5" y1="271.70" x2="139.5" y2="271.70" stroke="#9e9efb" stroke-width="2.8"/>
<text x="148.5" y="276.60" class="t"><tspan class="one">1</tspan> h</text>
<rect x="534.8" y="518" width="121.3" height="136.5" fill="#fff"/>
<text x="541.6" y="533.6" class="delta">Δ<tspan class="tit">t</tspan></text><text x="556.6" y="540.1" class="sub">quench</text>
<line x1="541.2" y1="554.60" x2="603.2" y2="554.60" stroke="#2b0c0c" stroke-width="2.8"/>
<text x="612.3" y="559.80" class="t">–30 s</text>
<line x1="541.2" y1="576.28" x2="603.2" y2="576.28" stroke="#952222" stroke-width="2.8"/>
<text x="612.3" y="581.48" class="t">0 s</text>
<line x1="541.2" y1="597.96" x2="603.2" y2="597.96" stroke="#cc3333" stroke-width="2.8"/>
<text x="612.3" y="603.16" class="t">30 s</text>
<line x1="541.2" y1="619.64" x2="603.2" y2="619.64" stroke="#fa0000" stroke-width="2.8"/>
<text x="612.3" y="624.84" class="t"><tspan class="one">1</tspan> min</text>
<line x1="541.2" y1="641.32" x2="603.2" y2="641.32" stroke="#ff8080" stroke-width="2.8"/>
<text x="612.3" y="646.52" class="t">2 min</text>
<rect x="534.8" y="888" width="121.3" height="136.5" fill="#fff"/>
<text x="541.6" y="903.6" class="delta">Δ<tspan class="tit">t</tspan></text><text x="556.6" y="910.1" class="sub">quench</text>
<line x1="541.2" y1="924.60" x2="603.2" y2="924.60" stroke="#2b0c0c" stroke-width="2.8"/>
<text x="612.3" y="929.80" class="t">2 min</text>
<line x1="541.2" y1="946.28" x2="603.2" y2="946.28" stroke="#952222" stroke-width="2.8"/>
<text x="612.3" y="951.48" class="t">3 min</text>
<line x1="541.2" y1="967.96" x2="603.2" y2="967.96" stroke="#cc3333" stroke-width="2.8"/>
<text x="612.3" y="973.16" class="t">4 min</text>
<line x1="541.2" y1="989.64" x2="603.2" y2="989.64" stroke="#fa0000" stroke-width="2.8"/>
<text x="612.3" y="994.84" class="t">5 min</text>
<line x1="541.2" y1="1011.32" x2="603.2" y2="1011.32" stroke="#ff8080" stroke-width="2.8"/>
<text x="612.3" y="1016.52" class="t">6 min</text>
<text x="47.6" y="304.30" text-anchor="end" class="t">0</text>
<text x="47.6" y="258.13" text-anchor="end" class="t">5</text>
<text x="47.6" y="211.97" text-anchor="end" class="t"><tspan class="one">1</tspan>0</text>
<text x="47.6" y="165.80" text-anchor="end" class="t"><tspan class="one">1</tspan>5</text>
<text x="47.6" y="119.63" text-anchor="end" class="t">20</text>
<text x="47.6" y="73.47" text-anchor="end" class="t">25</text>
<text x="47.6" y="27.30" text-anchor="end" class="t">30</text>
<text x="47.6" y="674.30" text-anchor="end" class="t">0</text>
<text x="47.6" y="628.13" text-anchor="end" class="t">5</text>
<text x="47.6" y="581.97" text-anchor="end" class="t"><tspan class="one">1</tspan>0</text>
<text x="47.6" y="535.80" text-anchor="end" class="t"><tspan class="one">1</tspan>5</text>
<text x="47.6" y="489.63" text-anchor="end" class="t">20</text>
<text x="47.6" y="443.47" text-anchor="end" class="t">25</text>
<text x="47.6" y="397.30" text-anchor="end" class="t">30</text>
<text x="47.6" y="1043.90" text-anchor="end" class="t">0</text>
<text x="47.6" y="997.75" text-anchor="end" class="t">5</text>
<text x="47.6" y="951.60" text-anchor="end" class="t"><tspan class="one">1</tspan>0</text>
<text x="47.6" y="905.45" text-anchor="end" class="t"><tspan class="one">1</tspan>5</text>
<text x="47.6" y="859.30" text-anchor="end" class="t">20</text>
<text x="47.6" y="813.15" text-anchor="end" class="t">25</text>
<text x="47.6" y="767.00" text-anchor="end" class="t">30</text>
<text x="130.65" y="323.2" text-anchor="middle" class="t"><tspan class="one">1</tspan>0<tspan class="sup" dy="-8.2">0</tspan></text>
<text x="273.98" y="323.2" text-anchor="middle" class="t"><tspan class="one">1</tspan>0<tspan class="sup" dy="-8.2"><tspan class="one">1</tspan></tspan></text>
<text x="417.31" y="323.2" text-anchor="middle" class="t"><tspan class="one">1</tspan>0<tspan class="sup" dy="-8.2">2</tspan></text>
<text x="560.64" y="323.2" text-anchor="middle" class="t"><tspan class="one">1</tspan>0<tspan class="sup" dy="-8.2">3</tspan></text>
<text x="55.50" y="688.6" text-anchor="middle" class="t">0</text>
<text x="178.90" y="688.6" text-anchor="middle" class="t">50</text>
<text x="302.30" y="688.6" text-anchor="middle" class="t"><tspan class="one">1</tspan>00</text>
<text x="425.70" y="688.6" text-anchor="middle" class="t"><tspan class="one">1</tspan>50</text>
<text x="549.10" y="688.6" text-anchor="middle" class="t">200</text>
<text x="672.50" y="688.6" text-anchor="middle" class="t">250</text>
<text x="55.50" y="1058.2" text-anchor="middle" class="t">0</text>
<text x="158.33" y="1058.2" text-anchor="middle" class="t"><tspan class="one">1</tspan>00</text>
<text x="261.17" y="1058.2" text-anchor="middle" class="t">200</text>
<text x="364.00" y="1058.2" text-anchor="middle" class="t">300</text>
<text x="466.83" y="1058.2" text-anchor="middle" class="t">400</text>
<text x="569.67" y="1058.2" text-anchor="middle" class="t">500</text>
<text x="672.50" y="1058.2" text-anchor="middle" class="t">600</text>
<text x="364.00" y="347.8" text-anchor="middle" class="t">Time (s)</text>
<text x="364.00" y="713.4" text-anchor="middle" class="t">Time (s)</text>
<text x="364.00" y="1084.4" text-anchor="middle" class="t">Time (s)</text>
<text transform="translate(13.8,161.00) rotate(-90)" text-anchor="middle" class="yl">Vesicularity (%)</text>
<text transform="translate(13.8,531.00) rotate(-90)" text-anchor="middle" class="yl">Vesicularity (%)</text>
<text transform="translate(13.8,900.65) rotate(-90)" text-anchor="middle" class="yl">Vesicularity (%)</text>
<text x="0" y="18.8" class="pl">a</text>
<text x="0" y="375.4" class="pl">b</text>
<text x="0" y="744.6" class="pl">c</text>
<text x="323" y="8.9" class="tau">τ</text><text x="330.8" y="14" class="sub">decompression</text>
<text x="291.2" y="375.2" class="tau">τ</text><text x="299" y="381.2" class="sub">decompression</text><path d="M384.4,366.2 L378.4,369.7 L384.4,373.2 M388.9,366.2 L382.9,369.7 L388.9,373.2" fill="none" stroke="#231f20" stroke-width="1.15"/><text x="394" y="375.2" class="tau">τ</text><text x="401.3" y="381.2" class="sub">cooling</text>
<text x="291.2" y="744.1" class="tau">τ</text><text x="299" y="750.3" class="sub">decompression</text><path d="M378.3,735 L384.1,738.5 L378.3,742 M383.3,735 L389.1,738.5 L383.3,742" fill="none" stroke="#231f20" stroke-width="1.15"/><text x="394" y="743.8" class="tau">τ</text><text x="401.3" y="750.3" class="sub">cooling</text>
<text x="81.2" y="889.8" class="ann">Maximum vesicularity</text>
<text x="81.2" y="1013.9" class="ann">Typical vesicularity</text>
<path d="M515,0V1237L197,1010V1180L530,1409H696V0Z" transform="translate(148.50,168.20) scale(0.007812,-0.007812)" fill="#231f20" stroke="#231f20" stroke-width="38.4"/>
<path d="M515,0V1237L197,1010V1180L530,1409H696V0Z" transform="translate(148.50,211.56) scale(0.007812,-0.007812)" fill="#231f20" stroke="#231f20" stroke-width="38.4"/>
<path d="M515,0V1237L197,1010V1180L530,1409H696V0Z" transform="translate(148.50,276.60) scale(0.007812,-0.007812)" fill="#231f20" stroke="#231f20" stroke-width="38.4"/>
<path d="M515,0V1237L197,1010V1180L530,1409H696V0Z" transform="translate(612.30,624.84) scale(0.007812,-0.007812)" fill="#231f20" stroke="#231f20" stroke-width="38.4"/>
<path d="M515,0V1237L197,1010V1180L530,1409H696V0Z" transform="translate(29.79,211.97) scale(0.007812,-0.007812)" fill="#231f20" stroke="#231f20" stroke-width="38.4"/>
<path d="M515,0V1237L197,1010V1180L530,1409H696V0Z" transform="translate(29.79,165.80) scale(0.007812,-0.007812)" fill="#231f20" stroke="#231f20" stroke-width="38.4"/>
<path d="M515,0V1237L197,1010V1180L530,1409H696V0Z" transform="translate(29.79,581.97) scale(0.007812,-0.007812)" fill="#231f20" stroke="#231f20" stroke-width="38.4"/>
<path d="M515,0V1237L197,1010V1180L530,1409H696V0Z" transform="translate(29.79,535.80) scale(0.007812,-0.007812)" fill="#231f20" stroke="#231f20" stroke-width="38.4"/>
<path d="M515,0V1237L197,1010V1180L530,1409H696V0Z" transform="translate(29.79,951.60) scale(0.007812,-0.007812)" fill="#231f20" stroke="#231f20" stroke-width="38.4"/>
<path d="M515,0V1237L197,1010V1180L530,1409H696V0Z" transform="translate(29.79,905.45) scale(0.007812,-0.007812)" fill="#231f20" stroke="#231f20" stroke-width="38.4"/>
<path d="M515,0V1237L197,1010V1180L530,1409H696V0Z" transform="translate(118.54,323.20) scale(0.007812,-0.007812)" fill="#231f20" stroke="#231f20" stroke-width="38.4"/>
<path d="M515,0V1237L197,1010V1180L530,1409H696V0Z" transform="translate(261.87,323.20) scale(0.007812,-0.007812)" fill="#231f20" stroke="#231f20" stroke-width="38.4"/>
<path d="M515,0V1237L197,1010V1180L530,1409H696V0Z" transform="translate(279.68,315.00) scale(0.005615,-0.005615)" fill="#231f20" stroke="#231f20" stroke-width="53.4"/>
<path d="M515,0V1237L197,1010V1180L530,1409H696V0Z" transform="translate(405.20,323.20) scale(0.007812,-0.007812)" fill="#231f20" stroke="#231f20" stroke-width="38.4"/>
<path d="M515,0V1237L197,1010V1180L530,1409H696V0Z" transform="translate(548.53,323.20) scale(0.007812,-0.007812)" fill="#231f20" stroke="#231f20" stroke-width="38.4"/>
<path d="M515,0V1237L197,1010V1180L530,1409H696V0Z" transform="translate(288.95,688.60) scale(0.007812,-0.007812)" fill="#231f20" stroke="#231f20" stroke-width="38.4"/>
<path d="M515,0V1237L197,1010V1180L530,1409H696V0Z" transform="translate(412.35,688.60) scale(0.007812,-0.007812)" fill="#231f20" stroke="#231f20" stroke-width="38.4"/>
<path d="M515,0V1237L197,1010V1180L530,1409H696V0Z" transform="translate(144.98,1058.20) scale(0.007812,-0.007812)" fill="#231f20" stroke="#231f20" stroke-width="38.4"/>
</svg></body></html>
